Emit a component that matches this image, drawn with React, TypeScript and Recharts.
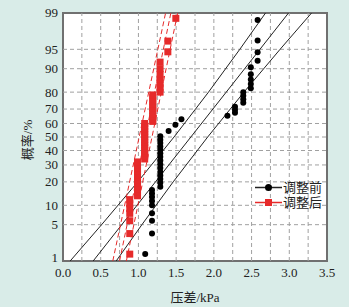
import React from 'react';
import { ComposedChart, XAxis, YAxis, Scatter, Line, ReferenceArea, CartesianGrid } from 'recharts';

// ---------- data ----------
const xTicks = [0, 0.5, 1.0, 1.5, 2.0, 2.5, 3.0, 3.5];
const xGrid = [0.25, 0.5, 0.75, 1.0, 1.25, 1.5, 1.75, 2.0, 2.25, 2.5, 2.75, 3.0, 3.25];
const pTicks = [1, 5, 10, 20, 30, 40, 50, 60, 70, 80, 90, 95, 99];

// 调整前 (before adjustment)
const beforeX = [1.09, 1.18, 1.18, 1.18, 1.18, 1.18, 1.18, 1.18, 1.18,
  1.29, 1.29, 1.29, 1.29, 1.29, 1.29, 1.29, 1.29, 1.29, 1.29, 1.29, 1.29, 1.29, 1.29, 1.29,
  1.40, 1.49, 1.57, 2.18, 2.28, 2.28, 2.28, 2.39, 2.39, 2.39, 2.39,
  2.49, 2.49, 2.49, 2.49, 2.49, 2.58, 2.58, 2.58, 2.58];
const beforeP = [1.4, 3.5, 5.8, 7.6, 10, 11.5, 13, 14.5, 16,
  17.5, 19.5, 21.5, 23.5, 25.5, 28, 30.5, 33, 35.5, 38, 40.5, 43, 45.5, 48, 50.5,
  54.5, 59, 63, 65.5, 67.5, 69.5, 71.5, 74, 76, 78, 80,
  82, 84, 86, 88, 90.5, 92.4, 94.4, 96.5, 98.6];

// 调整后 (after adjustment)
const afterX = [0.885, 0.885, 0.885, 0.885, 0.885, 0.885, 0.885,
  0.988, 0.988, 0.988, 0.988, 0.988, 0.988, 0.988, 0.988, 0.988, 0.988, 0.988, 0.988,
  1.083, 1.083, 1.083, 1.083, 1.083, 1.083, 1.083, 1.083, 1.083, 1.083, 1.083, 1.083, 1.083, 1.083,
  1.19, 1.19, 1.19, 1.19, 1.19, 1.19, 1.19, 1.19, 1.19, 1.19,
  1.287, 1.287, 1.287, 1.287, 1.287, 1.287, 1.287,
  1.39, 1.39, 1.496];
const afterP = [1.4, 3.5, 5.8, 7.6, 9, 10.5, 12,
  13.5, 15, 16.5, 18, 19.5, 21, 22.5, 24, 26, 28, 30, 32,
  34, 36, 38, 40, 42, 44, 46, 48, 50, 52, 54, 56, 58, 60,
  61.5, 63, 65, 67, 69, 71, 73, 75, 77, 78.5,
  80, 82, 84, 86, 88, 90, 92,
  94.5, 96.4, 98.7];

// fitted line and confidence bands, x read at these probabilities
const bandP = [1, 5, 20, 50, 80, 95, 99];
const beforeFitLowX = [0.095, 0.512, 0.991, 1.472, 1.929, 2.344, 2.685];
const beforeFitMidX = [0.40, 0.779, 1.226, 1.695, 2.164, 2.611, 2.99];
const beforeFitHighX = [0.705, 1.046, 1.461, 1.918, 2.399, 2.878, 3.295];
const lineP = [1, 99];
const afterFitLowX = [0.66, 1.36];
const afterFitMidX = [0.75, 1.43];
const afterFitHighX = [0.84, 1.52];

// ---------- helpers ----------
function normInv(p: number): number {
  const a = [-3.969683028665376e+01, 2.209460984245205e+02, -2.759285104469687e+02, 1.383577518672690e+02, -3.066479806614716e+01, 2.506628277459239e+00];
  const b = [-5.447609879822406e+01, 1.615858368580409e+02, -1.556989798598866e+02, 6.680131188771972e+01, -1.328068155288572e+01];
  const c = [-7.784894002430293e-03, -3.223964580411365e-01, -2.400758277161838e+00, -2.549732539343734e+00, 4.374664141464968e+00, 2.938163982698783e+00];
  const d = [7.784695709862960e-03, 3.224671290700398e-01, 2.445134137142996e+00, 3.754408661907416e+00];
  const pl = 0.02425, ph = 1 - pl;
  if (p < pl) {
    const q = Math.sqrt(-2 * Math.log(p));
    return (((((c[0] * q + c[1]) * q + c[2]) * q + c[3]) * q + c[4]) * q + c[5]) / ((((d[0] * q + d[1]) * q + d[2]) * q + d[3]) * q + 1);
  }
  if (p <= ph) {
    const q = p - 0.5, r = q * q;
    return (((((a[0] * r + a[1]) * r + a[2]) * r + a[3]) * r + a[4]) * r + a[5]) * q / (((((b[0] * r + b[1]) * r + b[2]) * r + b[3]) * r + b[4]) * r + 1);
  }
  const q = Math.sqrt(-2 * Math.log(1 - p));
  return -(((((c[0] * q + c[1]) * q + c[2]) * q + c[3]) * q + c[4]) * q + c[5]) / ((((d[0] * q + d[1]) * q + d[2]) * q + d[3]) * q + 1);
}
const zOf = (pct: number) => normInv(pct / 100);
const zMin = zOf(1);
const zMax = zOf(99);
const yTicks = pTicks.map(zOf);
const nearestTick = (v: number) => {
  let best = 0;
  yTicks.forEach((t, i) => { if (Math.abs(t - v) < Math.abs(yTicks[best] - v)) best = i; });
  return best;
};
const build = (xs: number[], ps: number[]) => xs.map((x, i) => ({ x, z: zOf(ps[i]) }));

const beforeData = build(beforeX, beforeP);
const afterData = build(afterX, afterP);
const RED = '#e62a2a';
const fitLines = [
  { d: build(beforeFitLowX, bandP), c: '#222', dash: undefined },
  { d: build(beforeFitMidX, bandP), c: '#222', dash: undefined },
  { d: build(beforeFitHighX, bandP), c: '#222', dash: undefined },
  { d: build(afterFitLowX, lineP), c: RED, dash: '5 3' },
  { d: build(afterFitMidX, lineP), c: RED, dash: '5 3' },
  { d: build(afterFitHighX, lineP), c: RED, dash: '5 3' },
];
const gridLines = [
  ...xGrid.map((g) => [{ x: g, z: zMin }, { x: g, z: zMax }]),
  ...pTicks.slice(1, -1).map((p) => [{ x: 0, z: zOf(p) }, { x: 3.5, z: zOf(p) }]),
];

const FONT = '"Liberation Serif", "Times New Roman", "Noto Sans CJK SC", serif';
const GRID = '#a0a0a0';
const TXT = '#222';

const Square = (props: any) => {
  const { cx, cy } = props;
  if (cx == null || cy == null) return null;
  return <rect x={cx - 3.5} y={cy - 3.5} width={7} height={7} fill={RED} />;
};
const Dot = (props: any) => {
  const { cx, cy } = props;
  if (cx == null || cy == null) return null;
  return <circle cx={cx} cy={cy} r={3} fill="#000" />;
};

const YTick = (props: any) => {
  const { x, y, payload } = props;
  const idx = nearestTick(payload.value);
  const shift = idx === 0 ? -3 : 0;
  return (
    <text x={x} y={y + shift} dy="0.34em" textAnchor="end" fill={TXT}
      style={{ fontFamily: FONT, fontSize: 13 }}>{String(pTicks[idx])}</text>
  );
};

const LegendBox = () => (
  <div style={{ position: 'absolute', left: 255, top: 180, fontFamily: FONT, fontSize: 13, color: TXT, lineHeight: '15px' }}>
    <div style={{ display: 'flex', alignItems: 'center', height: 15 }}>
      <svg width={27} height={15}>
        <line x1={0} y1={7.5} x2={27} y2={7.5} stroke="#222" strokeWidth={1.5} />
        <circle cx={13.5} cy={7.5} r={3.5} fill="#000" />
      </svg>
      <span style={{ marginLeft: 1 }}>调整前</span>
    </div>
    <div style={{ display: 'flex', alignItems: 'center', height: 15 }}>
      <svg width={27} height={15}>
        <line x1={0} y1={7.5} x2={27} y2={7.5} stroke={RED} strokeWidth={1.5} />
        <rect x={10} y={4} width={7} height={7} fill={RED} />
      </svg>
      <span style={{ marginLeft: 1 }}>调整后</span>
    </div>
  </div>
);

export default function App() {
  return (
    <div style={{ width: 349, height: 307, background: '#d9ece8', position: 'relative' }}>
      <style>{`body{margin:0;background:#d9ece8;} .recharts-wrapper text, .recharts-text{font-family:${FONT};}`}</style>
      <ComposedChart width={349} height={307} margin={{ top: 13, right: 22, bottom: 0, left: 0 }}>
        <CartesianGrid fill="#ffffff" fillOpacity={1} horizontal={false} vertical={false} />
        <XAxis
          type="number"
          dataKey="x"
          domain={[0, 3.5]}
          ticks={xTicks}
          allowDataOverflow
          tickFormatter={(v: number) => v.toFixed(1)}
          height={46}
          tickLine={false}
          axisLine={false}
          tickSize={4}
          tickMargin={3}
          tick={{ fontFamily: FONT, fontSize: 13, fill: TXT }}
          label={{ value: '压差/kPa', position: 'insideBottom', offset: 5, style: { fontFamily: FONT, fontSize: 13, fill: TXT } }}
        />
        <YAxis
          type="number"
          dataKey="z"
          domain={[zMin, zMax]}
          ticks={yTicks}
          allowDataOverflow
          width={63}
          tickLine={false}
          axisLine={false}
          tickSize={4}
          tickMargin={1}
          interval={0}
          tick={<YTick />}
          label={{
            content: () => (
              <text x={29} y={140} transform="rotate(-90 29 140)" textAnchor="middle" dominantBaseline="middle"
                style={{ fontFamily: FONT, fontSize: 13, fill: TXT }}>概率/%</text>
            ),
          }}
        />
        {gridLines.map((d, i) => (
          <Line key={'g' + i} data={d} dataKey="z" type="linear" stroke={GRID} strokeWidth={1}
            strokeDasharray="4 3" dot={false} activeDot={false} isAnimationActive={false} legendType="none" />
        ))}
        {fitLines.map((l, i) => (
          <Line key={'fit' + i} data={l.d} dataKey="z" type="linear" stroke={l.c} strokeWidth={1}
            strokeDasharray={l.dash} dot={false} activeDot={false} isAnimationActive={false} legendType="none" />
        ))}
        <Scatter data={afterData} dataKey="z" shape={<Square />} isAnimationActive={false} legendType="none" />
        <Scatter data={beforeData} dataKey="z" shape={<Dot />} isAnimationActive={false} legendType="none" />
        <ReferenceArea x1={0} x2={3.5} y1={zMin} y2={zMax} fill="none" stroke="#707070" strokeWidth={2} ifOverflow="visible" />
      </ComposedChart>
      <LegendBox />
    </div>
  );
}
